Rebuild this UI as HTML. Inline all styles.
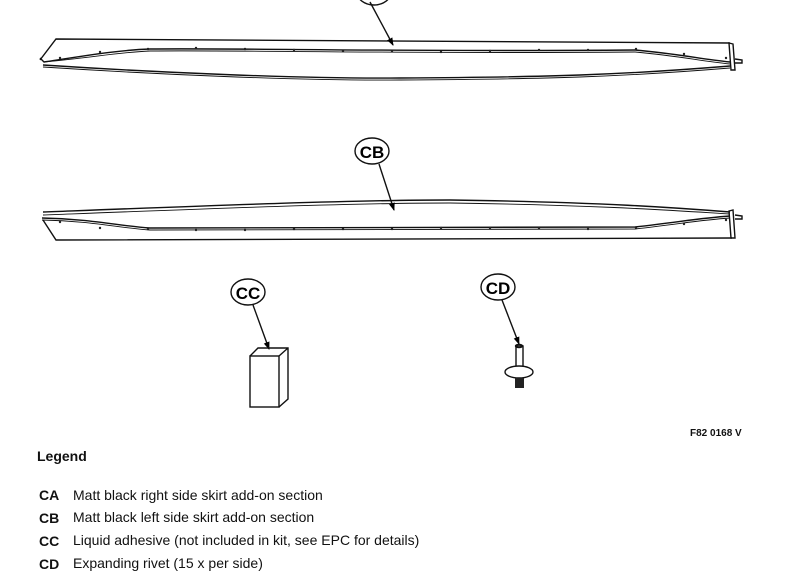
<!DOCTYPE html>
<html><head><style>
body{margin:0;background:#fff;width:785px;height:581px;overflow:hidden;font-family:"Liberation Sans",sans-serif}
svg{position:absolute;left:0;top:0}
.t{position:absolute;font-size:14px;color:#111;white-space:nowrap}
.b{font-weight:bold}
</style></head><body>
<svg width="785" height="581" viewBox="0 0 785 581">
<defs><marker id="ar" markerWidth="8" markerHeight="8" refX="7" refY="4" orient="auto" markerUnits="userSpaceOnUse"><path d="M0,1 L8,4 L0,7 z" fill="#000"/></marker></defs>
<g fill="none" stroke="#111" stroke-width="1.4">
<!-- CA -->
<ellipse cx="374" cy="-8" rx="17" ry="13" fill="#fff"/>
<path d="M40,60 L56,39 L730,43"/>
<path d="M40,58 L44,62 C90,55 120,50 150,49 C250,48 400,52 635,50 C680,54 700,59 730,62"/>
<path d="M44,62 C90,58 120,52 150,51 C250,50 400,54 635,52 C680,56 700,61 730,64" stroke-width="0.9"/>
<path d="M43,65 C150,72 300,79 400,78 C550,77 620,75 730,66"/>
<path d="M43,67 C150,74 300,81 400,80 C550,79 620,77 730,68" stroke-width="0.9"/>
<path d="M729,43 L733,44 L735,70 L731,70 Z"/>
<path d="M735,59 L742,60 L742,63 L735,63"/>
<line x1="370" y1="2" x2="393" y2="45" marker-end="url(#ar)"/>
<!-- CB -->
<path d="M43,212 C200,206 350,200 450,200 C600,202 680,208 730,212"/>
<path d="M43,215 C200,209 350,203 450,203 C600,205 680,211 730,214" stroke-width="0.9"/>
<path d="M42,218 C90,219 120,226 150,228 C250,229 400,229 635,227 C680,222 700,218 730,216"/>
<path d="M42,220 C90,221 120,228 150,230 C250,231 400,231 635,229 C680,224 700,220 730,218" stroke-width="0.9"/>
<path d="M43,220 L56,240 L732,238"/>
<path d="M729,211 L733,210 L735,238 L731,238 Z"/>
<path d="M735,215 L742,216 L742,219 L735,219"/>
<ellipse cx="372" cy="151" rx="17" ry="13" fill="#fff"/>
<line x1="379" y1="164" x2="394" y2="210" marker-end="url(#ar)"/>
<!-- CC -->
<ellipse cx="248" cy="292" rx="17" ry="13" fill="#fff"/>
<line x1="253" y1="305" x2="269" y2="349" marker-end="url(#ar)"/>
<rect x="250" y="356" width="29" height="51" fill="#fff"/>
<path d="M250,356 L258,348 L288,348 L288,399 L279,407 M279,356 L288,348"/>
<!-- CD -->
<ellipse cx="498" cy="287" rx="17" ry="13" fill="#fff"/>
<line x1="502" y1="300" x2="519" y2="344" marker-end="url(#ar)"/>
<rect x="516" y="346" width="7" height="24" fill="#fff"/>
<ellipse cx="519" cy="372" rx="14" ry="6" fill="#fff"/>
<ellipse cx="519" cy="346" rx="3.5" ry="1.5"/>
</g>
<rect x="515" y="378" width="9" height="10" fill="#222"/>
<g fill="#222">
<circle cx="60" cy="58" r="1.2"/><circle cx="100" cy="52" r="1.2"/><circle cx="148" cy="49" r="1.2"/><circle cx="196" cy="48" r="1.2"/><circle cx="245" cy="49" r="1.2"/><circle cx="294" cy="50" r="1.2"/><circle cx="343" cy="51" r="1.2"/><circle cx="392" cy="51" r="1.2"/><circle cx="441" cy="52" r="1.2"/><circle cx="490" cy="51" r="1.2"/><circle cx="539" cy="50" r="1.2"/><circle cx="588" cy="50" r="1.2"/><circle cx="636" cy="49" r="1.2"/><circle cx="684" cy="54" r="1.2"/><circle cx="726" cy="58" r="1.2"/>
<circle cx="60" cy="222" r="1.2"/><circle cx="100" cy="228" r="1.2"/><circle cx="148" cy="229" r="1.2"/><circle cx="196" cy="230" r="1.2"/><circle cx="245" cy="230" r="1.2"/><circle cx="294" cy="229" r="1.2"/><circle cx="343" cy="229" r="1.2"/><circle cx="392" cy="229" r="1.2"/><circle cx="441" cy="228" r="1.2"/><circle cx="490" cy="228" r="1.2"/><circle cx="539" cy="228" r="1.2"/><circle cx="588" cy="229" r="1.2"/><circle cx="636" cy="228" r="1.2"/><circle cx="684" cy="224" r="1.2"/><circle cx="726" cy="220" r="1.2"/>
</g>
<g font-family="Liberation Sans,sans-serif" font-weight="bold" font-size="17" text-anchor="middle" fill="#000">
<text x="372" y="158">CB</text><text x="248" y="299">CC</text><text x="498" y="294">CD</text>
</g>
</svg>
<div class="t b" style="left:690px;top:428px;font-size:10px">F82 0168 V</div>
<div class="t b" style="left:37px;top:448px;font-size:14px">Legend</div>
<div class="t b" style="left:39px;top:487px">CA</div><div class="t" style="left:73px;top:487px">Matt black right side skirt add-on section</div>
<div class="t b" style="left:39px;top:510px">CB</div><div class="t" style="left:73px;top:509px">Matt black left side skirt add-on section</div>
<div class="t b" style="left:39px;top:533px">CC</div><div class="t" style="left:73px;top:532px">Liquid adhesive (not included in kit, see EPC for details)</div>
<div class="t b" style="left:39px;top:556px">CD</div><div class="t" style="left:73px;top:555px">Expanding rivet (15 x per side)</div>
</body></html>
